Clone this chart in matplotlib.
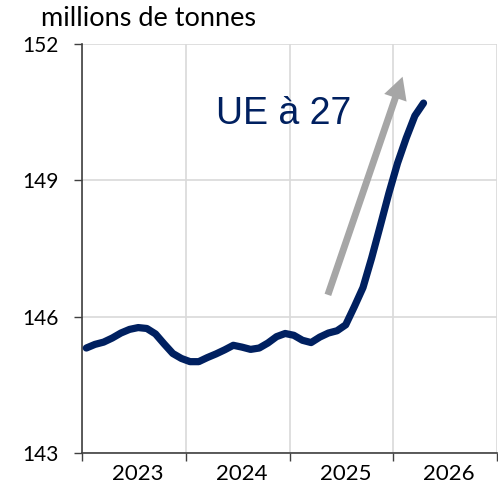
import matplotlib
matplotlib.use("Agg")
import matplotlib.pyplot as plt
import numpy as np

# Monthly series, January 2023 to April 2026 (millions de tonnes)
start_year = 2023
values = [145.31, 145.39, 145.44, 145.53, 145.64, 145.72, 145.76, 145.74, 145.62, 145.40,
          145.19, 145.08, 145.01, 145.01, 145.10, 145.18, 145.27, 145.37, 145.33, 145.28,
          145.31, 145.42, 145.56, 145.63, 145.59, 145.48, 145.43, 145.55, 145.64, 145.69,
          145.82, 146.22, 146.64, 147.29, 148.00, 148.72, 149.38, 149.93, 150.42, 150.70]
year_labels = ["2023", "2024", "2025", "2026"]
y_ticks = [143, 146, 149, 152]
title = "millions de tonnes"
annotation = "UE à 27"

x = start_year + (np.arange(len(values)) + 0.5) / 12.0

navy = "#002060"
grey_grid = "#d9d9d9"

fig = plt.figure(figsize=(4.98, 4.92), dpi=100)
ax = fig.add_axes([82/498, (492-453)/492, (497-82)/498, (453-44)/492])

ax.set_xlim(2023, 2027)
ax.set_ylim(143, 152)

# grid
ax.set_xticks([2023, 2024, 2025, 2026, 2027])
ax.set_xticklabels([])
ax.set_xticks([2023.54, 2024.54, 2025.54, 2026.54], minor=True)
ax.set_xticklabels(year_labels, minor=True, fontfamily="Lato", fontsize=16)
ax.tick_params(axis="x", which="minor", length=0, pad=8)
ax.tick_params(axis="x", which="major", direction="out", length=5.5, width=1, color="#404040")
ax.set_yticks(y_ticks)
ax.set_yticklabels([str(v) for v in y_ticks], fontfamily="Lato", fontsize=15)
ax.tick_params(axis="y", direction="out", length=5.5, width=1, color="#404040", pad=11)
ax.grid(True, which="major", color=grey_grid, linewidth=1.2)
ax.set_axisbelow(True)
for s in ["top", "right"]:
    ax.spines[s].set_visible(False)
for s in ["left", "bottom"]:
    ax.spines[s].set_color("#404040")
    ax.spines[s].set_linewidth(1.2)

ax.plot(x, values, color=navy, linewidth=5.2, solid_capstyle="round",
        solid_joinstyle="round", zorder=3, clip_on=False)

# arrow
ax.annotate("", xy=(2026.09, 151.28), xytext=(2025.37, 146.48),
            arrowprops=dict(width=5, headwidth=17, headlength=16, color="#a6a6a6",
                            shrink=0, linewidth=0), zorder=2)

ax.text(0.322, 0.804, annotation, transform=ax.transAxes, color=navy,
        fontfamily="Liberation Sans", fontsize=27, va="baseline", ha="left")

fig.text(41/498, 1 - 26/492, title, fontfamily="Lato", fontsize=19.5,
         va="baseline", ha="left", color="#000000")

fig.savefig("out.png", dpi=100)
